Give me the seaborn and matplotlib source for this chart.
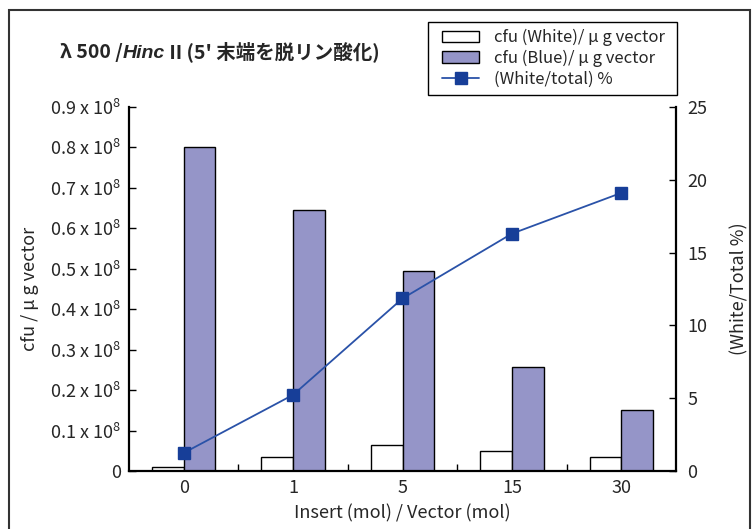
import numpy as np
import pandas as pd
import matplotlib
matplotlib.use('Agg')
import matplotlib.pyplot as plt
import matplotlib.patches as mpatches
from matplotlib.lines import Line2D
import seaborn as sns

# データ
categories = ['0', '1', '5', '15', '30']
cfu_white = [0.010e8, 0.035e8, 0.065e8, 0.049e8, 0.034e8]
cfu_blue = [0.800e8, 0.645e8, 0.495e8, 0.256e8, 0.152e8]
white_pct = [1.24, 5.23, 11.85, 16.3, 19.1]
left_ticks = [0, 0.1e8, 0.2e8, 0.3e8, 0.4e8, 0.5e8, 0.6e8, 0.7e8, 0.8e8, 0.9e8]
left_tick_labels = ['0'] + [f'0.{i} x 10$^8$' for i in range(1, 10)]
right_ticks = [0, 5, 10, 15, 20, 25]

series_white = 'cfu (White)/ μ g vector'
series_blue = 'cfu (Blue)/ μ g vector'
series_line = '(White/total) %'

sns.set_theme(style='white')
plt.rcParams['font.family'] = ['Noto Sans CJK JP', 'DejaVu Sans']
plt.rcParams['mathtext.fontset'] = 'custom'
plt.rcParams['mathtext.rm'] = 'Noto Sans CJK JP'
plt.rcParams['mathtext.it'] = 'Noto Sans CJK JP:italic'
plt.rcParams['mathtext.bf'] = 'Noto Sans CJK JP:bold'

df = pd.DataFrame({
    'insert': categories * 2,
    'cfu': cfu_white + cfu_blue,
    'series': [series_white] * 5 + [series_blue] * 5,
})

fig = plt.figure(figsize=(7.53, 5.29), dpi=100)
ax = fig.add_axes([129 / 753, 1 - 471 / 529, (676 - 129) / 753, (471 - 107) / 529])

white_c = '#ffffff'
blue_c = '#9595c8'
line_c = '#2a52a8'
mark_c = '#173e98'

sns.barplot(data=df, x='insert', y='cfu', hue='series', order=categories,
            palette=[white_c, blue_c], width=0.58, edgecolor='black',
            linewidth=1.0, saturation=1, ax=ax, legend=False)

ax2 = ax.twinx()
ax2.plot(np.arange(len(categories)), white_pct, color=line_c, lw=1.3,
         marker='s', markersize=9, markerfacecolor=mark_c, markeredgecolor=mark_c,
         zorder=5)

ax.set_xlim(-0.5, 4.5)
ax.set_ylim(0, 0.9e8)
ax2.set_ylim(0, 25)

ax.set_yticks(left_ticks)
ax.set_yticklabels(left_tick_labels, fontsize=13)
ax2.set_yticks(right_ticks)
ax2.set_yticklabels([str(t) for t in right_ticks], fontsize=13)
ax.set_xticks(range(len(categories)))
ax.set_xticklabels(categories, fontsize=13)
ax.set_xticks([0.5, 1.5, 2.5, 3.5], minor=True)

ax.tick_params(axis='x', which='major', length=0, pad=6)
ax.tick_params(axis='x', which='minor', direction='in', length=5, width=1, color='black', bottom=True)
ax.tick_params(axis='y', direction='in', length=5, width=1, color='black', left=True, pad=6)
ax2.tick_params(axis='y', direction='in', length=5, width=1, color='black', right=True, pad=8)

for a in (ax, ax2):
    a.spines['top'].set_visible(False)
    for s in ('left', 'right', 'bottom'):
        a.spines[s].set_color('black')
        a.spines[s].set_linewidth(1.6)
ax.spines['right'].set_visible(False)
ax2.spines['left'].set_visible(False)
ax2.spines['bottom'].set_visible(False)

ax.set_xlabel('Insert (mol) / Vector (mol)', fontsize=13, labelpad=5)
ax.set_ylabel('cfu / μ g vector', fontsize=13, labelpad=8)
ax2.set_ylabel('(White/Total %)', fontsize=13, labelpad=17)

# タイトル（部分ごとに書体を変える）
fig.canvas.draw()
renderer = fig.canvas.get_renderer()
x0 = 60 / 753
y0 = 1 - 58 / 529
parts = [('λ 500 /', 'normal', ['Noto Sans CJK JP', 'DejaVu Sans']),
         ('Hinc', 'italic', ['Liberation Sans', 'DejaVu Sans']),
         (" II (5' 末端を脱リン酸化)", 'normal', ['Noto Sans CJK JP', 'DejaVu Sans'])]
for txt, style, fam in parts:
    t = fig.text(x0, y0, txt, fontsize=14, fontweight='bold', fontstyle=style,
                 family=fam, va='baseline', ha='left')
    bb = t.get_window_extent(renderer=renderer)
    x0 += bb.width / fig.bbox.width

handles = [
    mpatches.Patch(facecolor=white_c, edgecolor='black', linewidth=1.0),
    mpatches.Patch(facecolor=blue_c, edgecolor='black', linewidth=1.0),
    Line2D([], [], color=line_c, lw=1.3, marker='s', markersize=9,
           markerfacecolor=mark_c, markeredgecolor=mark_c),
]
leg = fig.legend(handles, [series_white, series_blue, series_line],
                 loc='upper right', bbox_to_anchor=(670 / 753, 1 - 24 / 529),
                 fontsize=12, frameon=False, borderaxespad=0,
                 handlelength=2.2, handletextpad=0.9, labelspacing=0.22, borderpad=0.3)

# 凡例の枠
fig.patches.append(mpatches.Rectangle((428 / 753, 1 - 95 / 529), (677 - 428) / 753, 73 / 529,
                                      transform=fig.transFigure, fill=False,
                                      edgecolor='black', linewidth=1.0))

# 外枠
fig.patches.append(mpatches.Rectangle((9 / 753, -0.01), (750 - 9) / 753, 1.01 - 10 / 529,
                                      transform=fig.transFigure, fill=False,
                                      edgecolor='#333333', linewidth=1.5))

fig.savefig('out.png', dpi=100)
